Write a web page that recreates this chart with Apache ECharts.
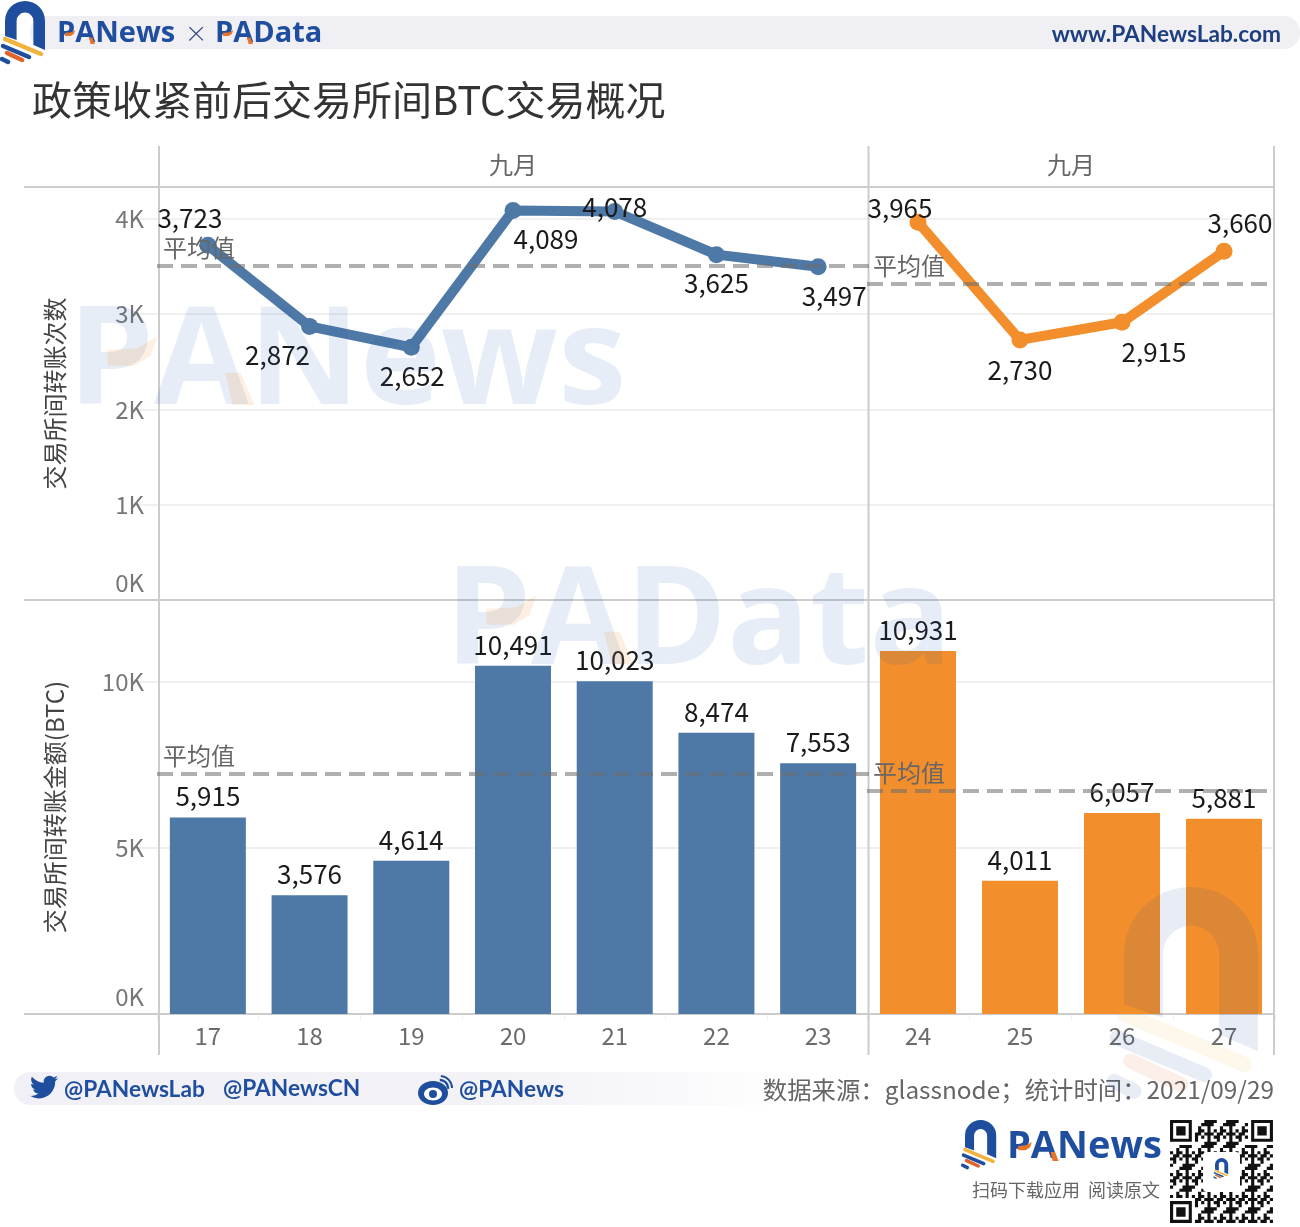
<!DOCTYPE html>
<html>
<head>
<meta charset="utf-8">
<title>政策收紧前后交易所间BTC交易概况</title>
<script src="https://cdn.jsdelivr.net/npm/echarts@6/dist/echarts.min.js"></script>
<style>
  html, body { margin: 0; padding: 0; background: #fff; }
  #main { width: 1300px; height: 1227px; }
</style>
</head>
<body>
<div id="main"></div>
<script>
// 数据
var daysBefore = ['17', '18', '19', '20', '21', '22', '23'];
var daysAfter = ['24', '25', '26', '27'];
var countBefore = [3723, 2872, 2652, 4089, 4078, 3625, 3497];
var countAfter = [3965, 2730, 2915, 3660];
var amountBefore = [5915, 3576, 4614, 10491, 10023, 8474, 7553];
var amountAfter = [10931, 4011, 6057, 5881];
var countAvg = [3505, 3318];
var amountAvg = [7235, 6720];

// 折线标签相对数据点的偏移
var countOffsetBefore = [[-18, -27], [-32, 29], [1, 29], [33, 29], [0, -4], [0, 28], [16, 29]];
var countOffsetAfter = [[-18, -14], [0, 30], [32, 30], [16, -28]];

var BLUE = '#4e79a7';
var ORANGE = '#f28e2b';
var LOGO = '#1f4e9e';
var CJK = '"Noto Sans CJK SC", sans-serif';
var LATIN = 'Lato, sans-serif';
var BRAND = '"Open Sans", sans-serif';

var ARCH = 'M0 35 V20 A20 20 0 0 1 40 20 V49 L28.4 44 V20 A8.4 8.4 0 0 0 11.6 20 V39 Z';
var BIRD = 'M23.95 4.57a10 10 0 0 1-2.82.77 4.96 4.96 0 0 0 2.16-2.72c-.95.55-2 .96-3.12 1.18a4.92 4.92 0 0 0-8.38 4.48C7.69 8.09 4.07 6.13 1.64 3.16a4.82 4.82 0 0 0-.67 2.48c0 1.71.87 3.21 2.19 4.1a4.9 4.9 0 0 1-2.23-.61v.06a4.92 4.92 0 0 0 3.95 4.83 4.9 4.9 0 0 1-2.21.08 4.94 4.94 0 0 0 4.6 3.42A9.87 9.87 0 0 1 0 19.54a13.94 13.94 0 0 0 7.55 2.21c9.06 0 14-7.5 14-13.98 0-.21 0-.42-.02-.63a10 10 0 0 0 2.46-2.55z';

echarts.graphic.registerShape('archShape', echarts.graphic.extendPath(ARCH, {}));
echarts.graphic.registerShape('birdShape', echarts.graphic.extendPath(BIRD, {}));
echarts.graphic.registerShape('qrShape', echarts.graphic.extendPath(qrPath(1170, 1120, 33, 3.12), {}));

var myChart = echarts.init(document.getElementById('main'), null, { renderer: 'canvas' });

function fmt(v) {
    return Number(v).toLocaleString('en-US');
}

function kLabel(v) {
    return (v / 1000) + 'K';
}

function avgLine(value, labelDist) {
    return {
        silent: true,
        symbol: 'none',
        z: 6,
        lineStyle: { color: 'rgba(110,110,110,0.55)', width: 4, type: [16, 8] },
        label: {
            show: true,
            formatter: '平均值',
            position: 'insideStartTop',
            distance: labelDist,
            color: '#666',
            fontSize: 24,
            fontFamily: CJK
        },
        data: [{ yAxis: value }]
    };
}

function lineSeries(idx, values, offsets, color, avg) {
    return {
        type: 'line',
        xAxisIndex: idx,
        yAxisIndex: idx,
        symbol: 'circle',
        symbolSize: 17,
        z: 3,
        lineStyle: { color: color, width: 10 },
        itemStyle: { color: color },
        data: values.map(function (v, i) {
            return { value: v, label: { offset: offsets[i] } };
        }),
        label: {
            show: true,
            position: 'inside',
            color: '#1a1a1a',
            fontSize: 26,
            fontFamily: CJK,
            formatter: function (p) { return fmt(p.value); }
        },
        markLine: avgLine(avg, 6)
    };
}

function barSeries(idx, values, color, avg) {
    return {
        type: 'bar',
        xAxisIndex: idx,
        yAxisIndex: idx,
        barWidth: 76,
        z: 3,
        itemStyle: { color: color },
        data: values,
        label: {
            show: true,
            position: 'top',
            distance: 8,
            color: '#1a1a1a',
            fontSize: 26,
            fontFamily: CJK,
            formatter: function (p) { return fmt(p.value); }
        },
        markLine: avgLine(avg, 6)
    };
}

function xAxis(idx, cats, isTop) {
    return {
        type: 'category',
        gridIndex: idx,
        data: cats,
        position: isTop ? 'top' : 'bottom',
        name: isTop ? '九月' : '',
        nameLocation: 'middle',
        nameGap: 10,
        nameTextStyle: { color: '#666', fontSize: 24, fontFamily: CJK },
        axisLine: { show: false },
        axisTick: { show: !isTop, length: 6, lineStyle: { color: '#eeeeee' } },
        axisLabel: {
            show: !isTop,
            color: '#6b6b6b',
            fontSize: 24,
            fontFamily: CJK,
            margin: 10
        }
    };
}

function yAxis(idx, max, interval, name, withLabels) {
    return {
        type: 'value',
        gridIndex: idx,
        min: 0,
        max: max,
        interval: interval,
        name: withLabels ? name : '',
        nameLocation: 'middle',
        nameRotate: 90,
        nameGap: 90,
        nameTextStyle: { color: '#444', fontSize: 24, fontFamily: CJK },
        axisLine: { show: false },
        axisTick: { show: withLabels, length: 21, lineStyle: { color: '#f0f0f0', width: 2 } },
        splitLine: { lineStyle: { color: '#f0f0f0', width: 2 } },
        axisLabel: {
            show: withLabels,
            color: '#777',
            fontSize: 24,
            fontFamily: CJK,
            margin: 13,
            lineHeight: 34,
            showMaxLabel: false,
            verticalAlignMinLabel: 'bottom',
            formatter: kLabel
        }
    };
}

// 页面上的线框
function rule(x1, y1, x2, y2, w) {
    return {
        type: 'line',
        z: 1,
        silent: true,
        shape: { x1: x1, y1: y1, x2: x2, y2: y2 },
        style: { stroke: '#cccccc', lineWidth: w || 2 }
    };
}

function label(text, x, y, font, fill, align) {
    return {
        type: 'text',
        z: 20,
        silent: true,
        x: x,
        y: y,
        style: {
            text: text,
            font: font,
            fill: fill,
            textAlign: align || 'left',
            textVerticalAlign: 'middle'
        }
    };
}

// 字标 P、A 上的橙色块，x0 为 P 竖笔左缘，y0 为字顶，h 为字高
function accent(x0, y0, h, fill) {
    function poly(pts) {
        return {
            type: 'polygon',
            z: 31,
            silent: true,
            shape: {
                points: pts.map(function (p) { return [x0 + p[0] * h, y0 + p[1] * h]; })
            },
            style: { fill: fill }
        };
    }
    return [
        poly([[0.30, 0.60], [0.58, 0.60], [0.74, 0.50], [0.81, 0.30], [0.60, 0.42], [0.30, 0.44]]),
        poly([[1.50, 0.67], [1.66, 0.67], [1.80, 1], [1.58, 1]])
    ];
}

// logo：拱形加斜条纹
function logo(x, y, s, opacity) {
    function stripe(x1, y1, x2, y2, color) {
        return {
            type: 'line',
            z: 30,
            shape: { x1: x1, y1: y1, x2: x2, y2: y2 },
            style: { stroke: color, lineWidth: 4.5, lineCap: 'round', opacity: opacity }
        };
    }
    return {
        type: 'group',
        x: x,
        y: y,
        scaleX: s,
        scaleY: s,
        silent: true,
        children: [
            { type: 'archShape', z: 30, style: { fill: LOGO, opacity: opacity } },
            stripe(0, 38, 36, 53, '#f2b33d'),
            stripe(-2, 45, 24, 56, LOGO),
            stripe(2, 52, 17, 59, '#e2632b'),
            stripe(-3, 58, 3, 61, LOGO)
        ]
    };
}

// 二维码装饰，模块图案固定
function qrPath(x, y, n, size) {
    var d = '';
    function cell(c, r, w, h) {
        d += 'M' + (x + c * size) + ' ' + (y + r * size) + 'h' + (w * size) + 'v' + (h * size) + 'h' + (-w * size) + 'z';
    }
    function finder(c, r) {
        cell(c, r, 7, 1); cell(c, r + 6, 7, 1); cell(c, r + 1, 1, 5); cell(c + 6, r + 1, 1, 5); cell(c + 2, r + 2, 3, 3);
    }
    for (var r = 0; r < n; r++) {
        for (var c = 0; c < n; c++) {
            var inFinder = (r < 8 && c < 8) || (r < 8 && c >= n - 8) || (r >= n - 8 && c < 8);
            if (inFinder) continue;
            if ((r * r * 7 + c * c * 13 + r * c * 5 + r * 3 + c * 11) % 7 < 3) cell(c, r, 1, 1);
        }
    }
    finder(0, 0);
    finder(n - 7, 0);
    finder(0, n - 7);
    return d;
}

var graphics = [
    // 页眉
    {
        type: 'rect', z: 0, silent: true,
        shape: { x: 30, y: 16, width: 1270, height: 33, r: 16 },
        style: { fill: '#efeff4' }
    },
    logo(5, 1, 1, 1),
    label('PANews', 57, 34, 'bold 29px ' + BRAND, LOGO),
    label('×', 196, 34, '300 34px ' + LATIN, '#34507f', 'center'),
    label('PAData', 215, 34, 'bold 29px ' + BRAND, LOGO),
    label('www.PANewsLab.com', 1281, 35, 'bold 22.7px ' + LATIN, '#1e3f7f', 'right'),
    label('政策收紧前后交易所间BTC交易概况', 32, 100, '40px ' + CJK, '#333'),

    // 框线
    rule(24, 187, 1275, 187),
    rule(24, 600, 1275, 600),
    rule(24, 1014, 1275, 1014),
    rule(159, 146, 159, 1055),
    rule(868.5, 146, 868.5, 1055),
    rule(1274, 146, 1274, 1055),

    // 水印
    label('PANews', 68, 365, 'bold 137px ' + BRAND, 'rgba(40,90,170,0.11)'),
    label('PAData', 445, 625, 'bold 137px ' + BRAND, 'rgba(40,90,170,0.11)'),
    logo(1124, 887, 3.35, 0.1),

    // 页脚
    {
        type: 'rect', z: 0, silent: true,
        shape: { x: 14, y: 1072, width: 800, height: 33, r: 16 },
        style: {
            fill: new echarts.graphic.LinearGradient(0, 0, 1, 0, [
                { offset: 0, color: '#f0f0f6' },
                { offset: 0.6, color: '#f2f2f7' },
                { offset: 1, color: '#ffffff' }
            ])
        }
    },
    {
        type: 'birdShape', z: 20, silent: true, x: 30, y: 1073, scaleX: 1.17, scaleY: 1.17,
        style: { fill: LOGO }
    },
    label('@PANewsLab', 64, 1090, 'bold 22.7px ' + LATIN, LOGO),
    label('@PANewsCN', 223, 1089, 'bold 22.7px ' + LATIN, LOGO),
    // 微博图标
    { type: 'ellipse', z: 20, silent: true, shape: { cx: 433, cy: 1093, rx: 15, ry: 12 }, style: { fill: LOGO } },
    { type: 'ellipse', z: 21, silent: true, shape: { cx: 433, cy: 1094, rx: 9, ry: 6.5 }, style: { fill: '#fff' } },
    { type: 'circle', z: 22, silent: true, shape: { cx: 433, cy: 1094, r: 4 }, style: { fill: LOGO } },
    { type: 'arc', z: 20, silent: true, shape: { cx: 440, cy: 1088, r: 8, startAngle: -1.6, endAngle: 0.1 }, style: { stroke: LOGO, lineWidth: 2.5, fill: null } },
    { type: 'arc', z: 20, silent: true, shape: { cx: 440, cy: 1088, r: 12, startAngle: -1.5, endAngle: 0 }, style: { stroke: LOGO, lineWidth: 2, fill: null } },
    label('@PANews', 459, 1090, 'bold 22.7px ' + LATIN, LOGO),
    label('数据来源：glassnode；统计时间：2021/09/29', 1274, 1090, '24.4px ' + CJK, '#666', 'right'),

    logo(965, 1120, 0.78, 1),
    label('PANews', 1007, 1147, 'bold 38px ' + BRAND, LOGO),
    label('扫码下载应用  阅读原文', 1160, 1190, '18px ' + CJK, '#666', 'right'),
    { type: 'qrShape', z: 20, silent: true, style: { fill: '#111' } },
    { type: 'rect', z: 21, silent: true, shape: { x: 1203, y: 1152, width: 37, height: 40, r: 4 }, style: { fill: '#fff' } },
    logo(1215, 1158, 0.33, 1),
    label('PANews', 1222, 1186, 'bold 7px ' + LATIN, LOGO, 'center')
]
    .concat(accent(59, 24, 20, '#e8742a'))
    .concat(accent(217, 24, 20, '#e8742a'))
    .concat(accent(1010, 1134, 27, '#e8742a'))
    .concat(accent(78, 307, 98, 'rgba(242,142,43,0.14)'))
    .concat(accent(457, 566, 98, 'rgba(242,142,43,0.14)'));

var TOP_MAX = 4335;
var BOTTOM_MAX = 12470;

myChart.setOption({
    animation: false,
    backgroundColor: '#fff',
    grid: [
        { left: 157, top: 187, width: 712, height: 413 },
        { left: 867, top: 187, width: 408, height: 413 },
        { left: 157, top: 600, width: 712, height: 414 },
        { left: 867, top: 600, width: 408, height: 414 }
    ],
    xAxis: [
        xAxis(0, daysBefore, true),
        xAxis(1, daysAfter, true),
        xAxis(2, daysBefore, false),
        xAxis(3, daysAfter, false)
    ],
    yAxis: [
        yAxis(0, TOP_MAX, 1000, '交易所间转账次数', true),
        yAxis(1, TOP_MAX, 1000, '', false),
        yAxis(2, BOTTOM_MAX, 5000, '交易所间转账金额(BTC)', true),
        yAxis(3, BOTTOM_MAX, 5000, '', false)
    ],
    series: [
        lineSeries(0, countBefore, countOffsetBefore, BLUE, countAvg[0]),
        lineSeries(1, countAfter, countOffsetAfter, ORANGE, countAvg[1]),
        barSeries(2, amountBefore, BLUE, amountAvg[0]),
        barSeries(3, amountAfter, ORANGE, amountAvg[1])
    ],
    graphic: graphics
});
</script>
</body>
</html>
